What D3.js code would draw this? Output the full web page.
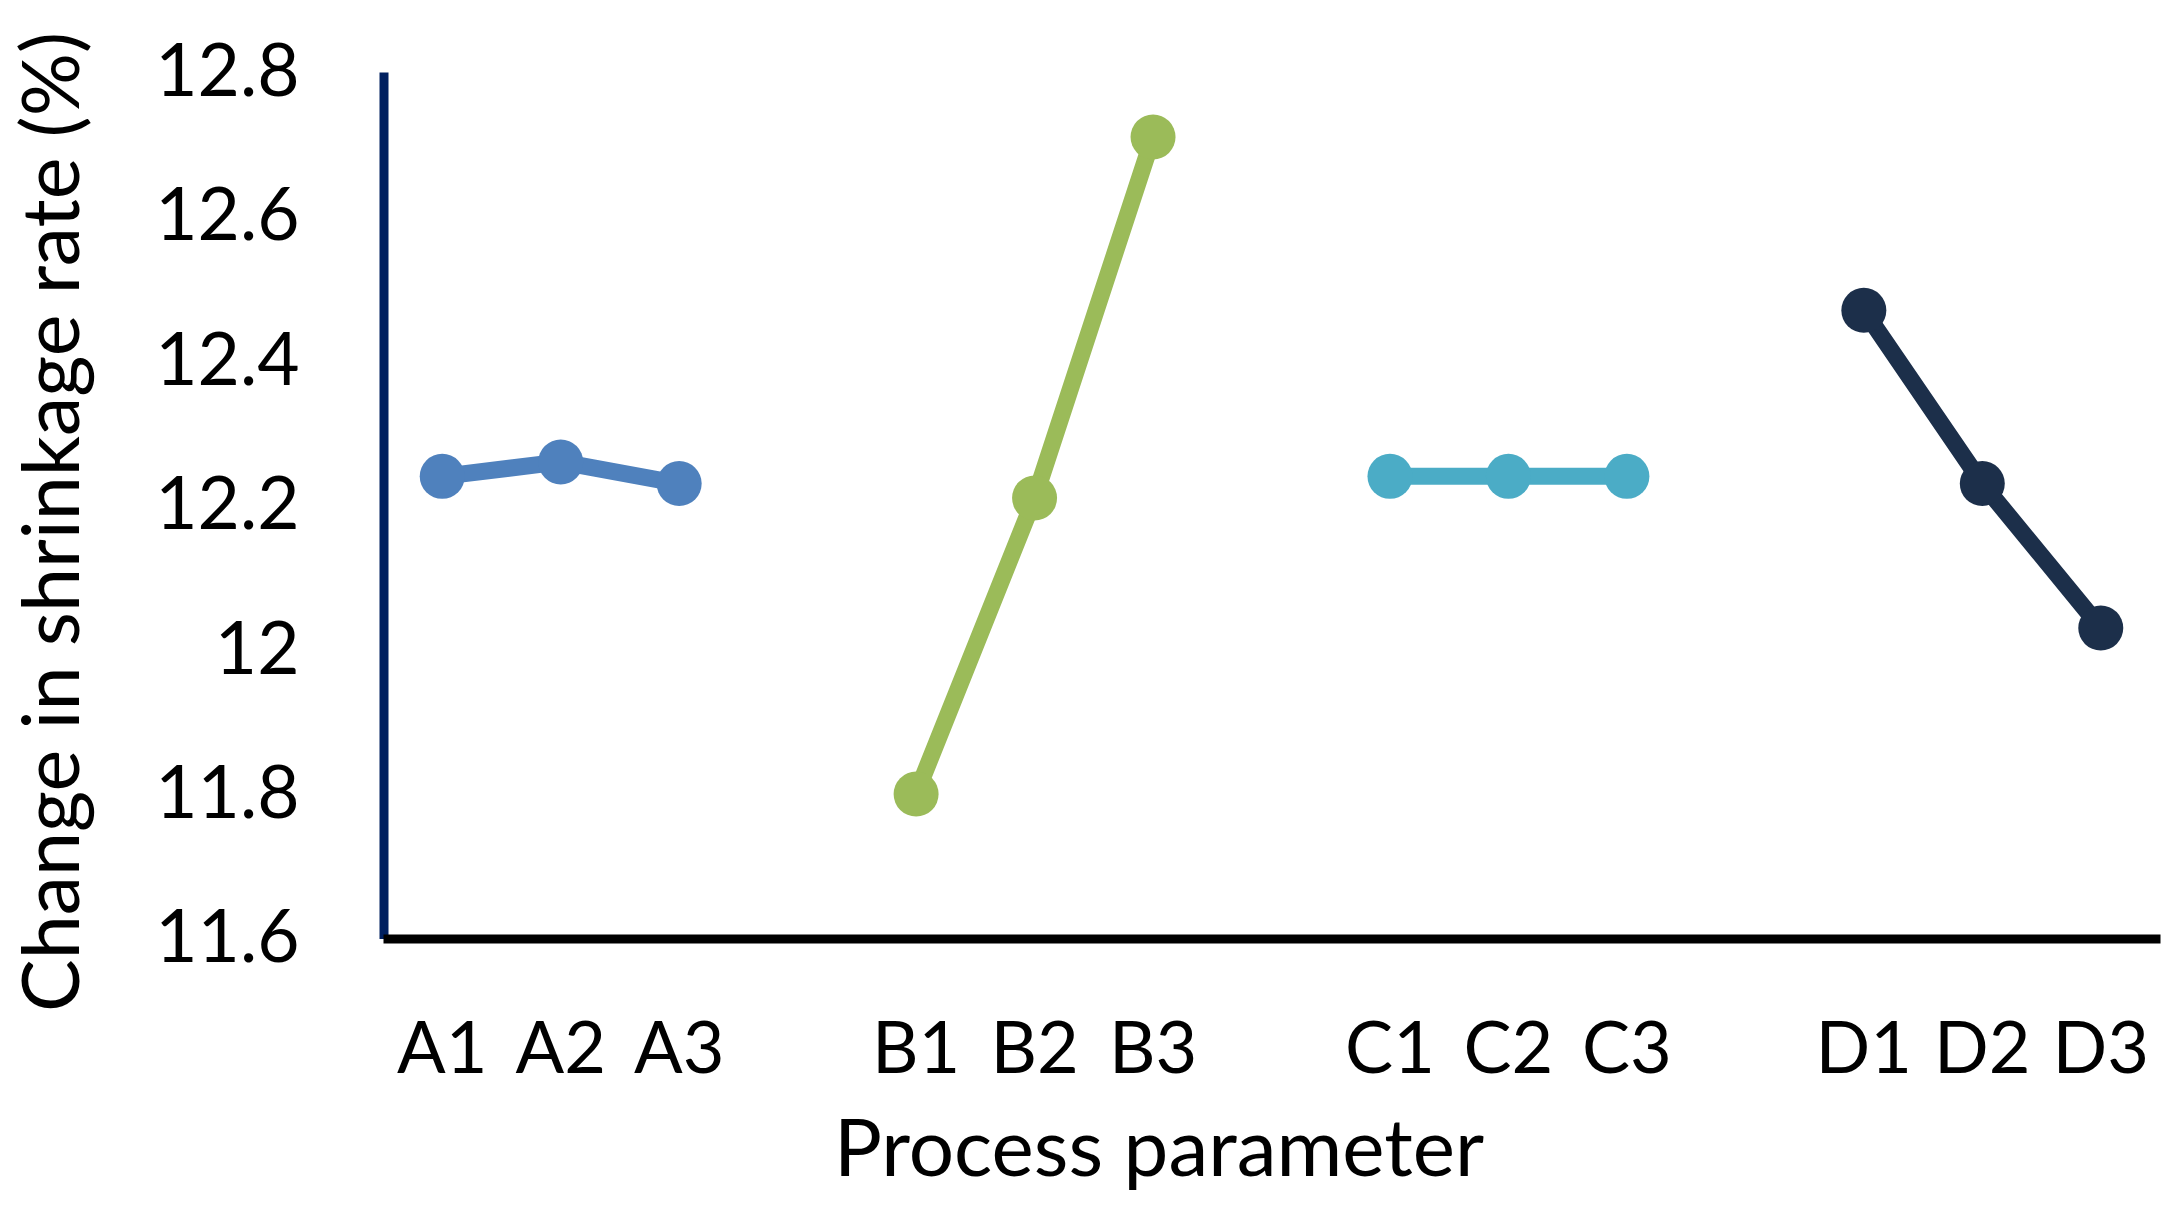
<!DOCTYPE html>
<html>
<head>
<meta charset="utf-8">
<script src="https://cdn.jsdelivr.net/npm/d3@7/dist/d3.min.js"></script>
<style>
  html, body { margin: 0; padding: 0; background: #ffffff; }
  svg { display: block; }
  text { font-family: "Lato", "Open Sans", sans-serif; fill: #000; }
</style>
</head>
<body>
<svg id="chart" width="2182" height="1217"></svg>
<script>
// ---- data ----
const categories = ["A1","A2","A3","gap1","B1","B2","B3","gap2","C1","C2","C3","gap3","D1","D2","D3"];
const categoryLabels = ["A1","A2","A3","","B1","B2","B3","","C1","C2","C3","","D1","D2","D3"];

const groupA = ["A1","A2","A3"];
const valuesA = [12.24, 12.26, 12.23];
const groupB = ["B1","B2","B3"];
const valuesB = [11.80, 12.21, 12.71];
const groupC = ["C1","C2","C3"];
const valuesC = [12.24, 12.24, 12.24];
const groupD = ["D1","D2","D3"];
const valuesD = [12.47, 12.23, 12.03];

const yTickValues = [11.6, 11.8, 12.0, 12.2, 12.4, 12.6, 12.8];
const yTickLabels = ["11.6", "11.8", "12", "12.2", "12.4", "12.6", "12.8"];

const seriesColors = ["#4f81bd", "#9bbb59", "#4bacc6", "#1c2f4a"];

const xTitle = "Process parameter";
const yTitle = "Change in shrinkage rate (%)";

// ---- chart ----
(function () {
const svg = d3.select("#chart");
const plotLeft = 383.5, plotRight = 2160, plotTop = 72, plotBottom = 938.5;

const x = d3.scaleBand().domain(categories).range([383, plotRight]).padding(0);
const y = d3.scaleLinear().domain([11.6, 12.8]).range([plotBottom, plotTop]);

const series = [
  { keys: groupA, values: valuesA, color: seriesColors[0] },
  { keys: groupB, values: valuesB, color: seriesColors[1] },
  { keys: groupC, values: valuesC, color: seriesColors[2] },
  { keys: groupD, values: valuesD, color: seriesColors[3] }
];

// axes
const yAxis = d3.axisLeft(y)
  .tickValues(yTickValues)
  .tickSize(0)
  .tickSizeOuter(0)
  .tickPadding(84)
  .tickFormat((d, i) => yTickLabels[i]);

const gy = svg.append("g").attr("transform", `translate(${plotLeft},0)`).call(yAxis);
gy.select(".domain").attr("stroke", "#002060").attr("stroke-width", 9);
gy.selectAll(".tick text")
  .attr("font-family", "Lato, 'Open Sans', sans-serif")
  .attr("font-size", 73)
  .attr("fill", "#000");

const xAxis = d3.axisBottom(x)
  .tickSize(0)
  .tickSizeOuter(0)
  .tickFormat((d, i) => categoryLabels[i]);

const gx = svg.append("g").attr("transform", `translate(0,${plotBottom})`).call(xAxis);
gx.select(".domain").attr("stroke", "#000").attr("stroke-width", 9);
gx.selectAll(".tick text")
  .attr("font-family", "Lato, 'Open Sans', sans-serif")
  .attr("font-size", 72)
  .attr("fill", "#000")
  .attr("y", 134.5)
  .attr("dy", 0);

// lines and markers
const line = d3.line()
  .x(d => x(d.k) + x.bandwidth() / 2)
  .y(d => y(d.v));

series.forEach(s => {
  const pts = s.keys.map((k, i) => ({ k: k, v: s.values[i] }));
  svg.append("path")
    .datum(pts)
    .attr("d", line)
    .attr("fill", "none")
    .attr("stroke", s.color)
    .attr("stroke-width", 17)
    .attr("stroke-linejoin", "round");
  svg.append("g").selectAll("circle")
    .data(pts)
    .join("circle")
    .attr("cx", d => x(d.k) + x.bandwidth() / 2)
    .attr("cy", d => y(d.v))
    .attr("r", 22.5)
    .attr("fill", s.color);
});

// titles
svg.append("text")
  .attr("x", 1159)
  .attr("y", 1176)
  .attr("text-anchor", "middle")
  .attr("font-size", 80)
  .text(xTitle);

svg.append("text")
  .attr("transform", `translate(79,522) rotate(-90)`)
  .attr("text-anchor", "middle")
  .attr("font-size", 79)
  .text(yTitle);
})();
</script>
</body>
</html>
